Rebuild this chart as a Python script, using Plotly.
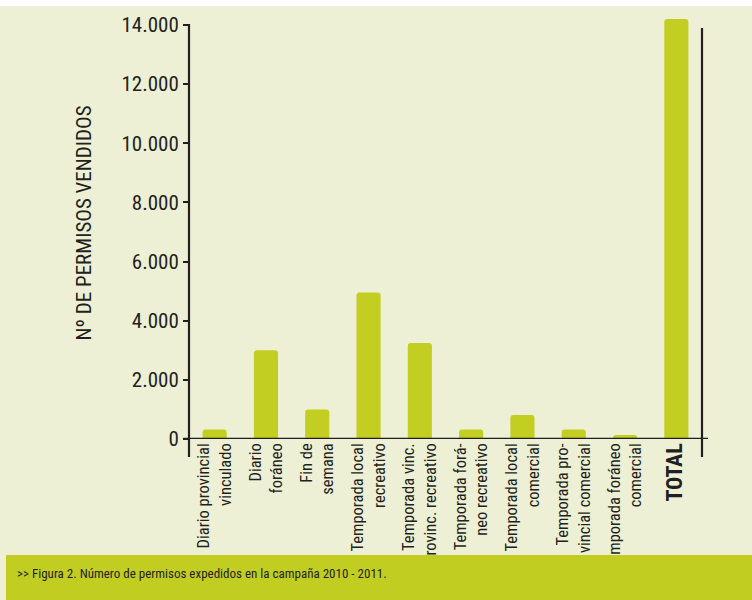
import plotly.graph_objects as go

# ---- data ----
categories = [
    "Diario provincial<br>vinculado",
    "Diario<br>foráneo",
    "Fin de<br>semana",
    "Temporada local<br>recreativo",
    "Temporada vinc.<br>provinc. recreativo",
    "Temporada forá-<br>neo recreativo",
    "Temporada local<br>comercial",
    "Temporada pro-<br>vincial comercial",
    "Temporada foráneo<br>comercial",
    "TOTAL",
]
permisos = [320, 3000, 1000, 4950, 3250, 320, 810, 320, 135, 14200]
y_tick_vals = [0, 2000, 4000, 6000, 8000, 10000, 12000, 14000]
y_tick_labels = ["0", "2.000", "4.000", "6.000", "8.000", "10.000", "12.000", "14.000"]
y_title = "Nº DE PERMISOS VENDIDOS"
caption = ">> Figura 2. Número de permisos expedidos en la campaña 2010 - 2011."

# ---- style ----
FONT = "Liberation Sans Narrow, Roboto Condensed, DejaVu Sans Condensed, Roboto, sans-serif"
INK = "#231f20"
BAR = "#c3ce22"
CREAM = "#edf0d4"
BAND = "#c2cd22"

W, H = 752, 600
L, R, T, B = 189, 50, 16, 161
PW, PH = W - L - R, H - T - B
Y_TOP = 14000 * (H - B - T) / (H - B - 25)  # 14.000 sits at 25 px from top


def px_x(px):
    return (px - L) / PW


def px_y(py):
    return (H - B - py) / PH


tick_text = [
    c if c != "TOTAL" else '<span style="font-size:22px"><b>TOTAL</b></span>'
    for c in categories
]

fig = go.Figure(
    go.Bar(
        x=categories,
        y=permisos,
        marker=dict(color=BAR, cornerradius=3, line=dict(width=0)),
        width=0.47,
        hoverinfo="skip",
    )
)

shapes = [
    # white strip on top
    dict(type="rect", xref="paper", yref="paper", x0=px_x(-5), x1=px_x(W + 5),
         y0=px_y(6), y1=px_y(-5), fillcolor="white", line=dict(width=0), layer="below"),
    # caption band
    dict(type="rect", xref="paper", yref="paper", x0=px_x(6), x1=px_x(W + 5),
         y0=px_y(605), y1=px_y(555), fillcolor=BAND, line=dict(width=0), layer="above"),
    # left axis line
    dict(type="line", xref="paper", yref="paper", x0=0, x1=0, y0=px_y(457), y1=px_y(24),
         line=dict(color=INK, width=2.2)),
    # right line
    dict(type="line", xref="paper", yref="paper", x0=1, x1=1, y0=px_y(457), y1=px_y(28),
         line=dict(color=INK, width=2.2)),
    # baseline
    dict(type="line", xref="paper", yref="y", x0=px_x(183), x1=px_x(708), y0=0, y1=0,
         line=dict(color=INK, width=2.5)),
]

fig.update_layout(
    width=W,
    height=H,
    margin=dict(l=L, r=R, t=T, b=B, pad=0),
    paper_bgcolor=CREAM,
    plot_bgcolor=CREAM,
    font=dict(family=FONT, color=INK),
    showlegend=False,
    shapes=shapes,
    xaxis=dict(
        type="category",
        range=[-0.5, len(categories) - 0.5],
        tickmode="array",
        tickvals=categories,
        ticktext=tick_text,
        tickangle=-90,
        ticks="",
        showline=False,
        showgrid=False,
        zeroline=False,
        tickfont=dict(family=FONT, size=16.5, color=INK),
    ),
    yaxis=dict(
        range=[0, Y_TOP],
        tickmode="array",
        tickvals=y_tick_vals,
        ticktext=y_tick_labels,
        ticks="outside",
        ticklen=5,
        tickwidth=2,
        tickcolor=INK,
        showline=False,
        showgrid=False,
        zeroline=False,
        tickfont=dict(family=FONT, size=21, color=INK),
    ),
    annotations=[
        dict(text=y_title, xref="paper", yref="paper", x=px_x(83.5), y=px_y(223),
             xanchor="center", yanchor="middle", textangle=-90, showarrow=False,
             font=dict(family=FONT, size=21, color=INK)),
        dict(text=caption, xref="paper", yref="paper", x=px_x(15), y=px_y(573),
             xanchor="left", yanchor="middle", showarrow=False,
             font=dict(family=FONT, size=13, color=INK)),
    ],
)

fig.write_html(
    "out.html",
    config={"displayModeBar": False},
    post_script="document.body.style.margin='0';",
)
